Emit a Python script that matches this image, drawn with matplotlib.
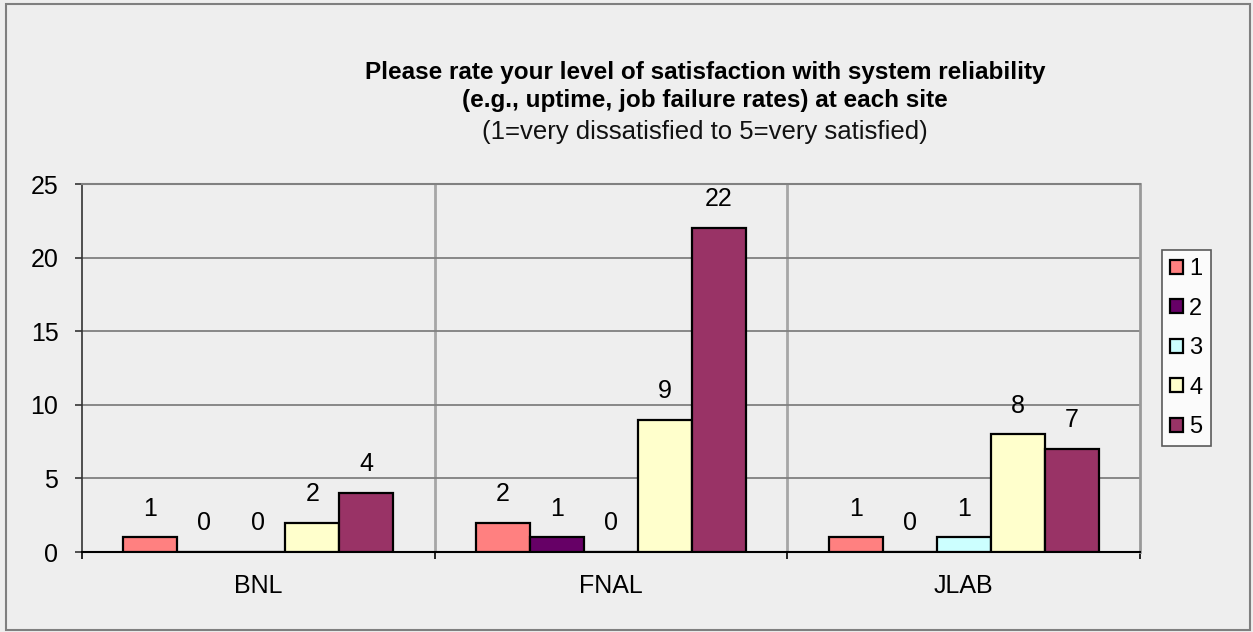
import matplotlib
matplotlib.use("Agg")
import matplotlib.pyplot as plt
from matplotlib.patches import Rectangle
import numpy as np

categories = ["BNL", "FNAL", "JLAB"]
series_names = ["1", "2", "3", "4", "5"]
values_1 = [1, 2, 1]
values_2 = [0, 1, 0]
values_3 = [0, 0, 1]
values_4 = [2, 9, 8]
values_5 = [4, 22, 7]
series_values = [values_1, values_2, values_3, values_4, values_5]
colors = ["#FF8080", "#660066", "#CCFFFF", "#FFFFCC", "#993366"]
yticks = [0, 5, 10, 15, 20, 25]

title_lines = ["Please rate your level of satisfaction with system reliability",
               "(e.g., uptime, job failure rates) at each site"]
subtitle = "(1=very dissatisfied to 5=very satisfied)"

plt.rcParams['font.family'] = ['Liberation Sans', 'DejaVu Sans']
bg = "#EEEEEE"
fig = plt.figure(figsize=(12.53, 6.32), dpi=100, facecolor=bg)

# outer frame
fig.patches.append(Rectangle((6/1253, 2/632), 1244/1253, 626/632, transform=fig.transFigure,
                             fill=False, edgecolor="#7F7F7F", linewidth=1.5))

ax = fig.add_axes([82/1253, 1-552/632, (1140-82)/1253, (552-184)/632])
ax.set_facecolor(bg)

x = np.arange(len(categories))
w = 0.153
for k, (vals, c, name) in enumerate(zip(series_values, colors, series_names)):
    pos = x + (k - 2) * w
    ax.bar(pos, vals, width=w, color=c, edgecolor="black", linewidth=1.6,
           label=name, zorder=3)
    for p, v in zip(pos, vals):
        ax.annotate(str(v), (p, v), xytext=(0, 12), textcoords="offset points",
                    ha="center", va="bottom", fontsize=18, zorder=4)

ax.set_xlim(-0.5, len(categories) - 0.5)
ax.set_ylim(0, 25)
ax.set_yticks(yticks)
ax.set_yticklabels([str(t) for t in yticks], fontsize=18)
ax.yaxis.grid(True, color="#808080", linewidth=1.3, zorder=0)
ax.tick_params(axis="y", length=5, width=1.2, color="#333333", pad=12)

# category boundaries
ax.set_xticks(x)
ax.set_xticklabels(categories, fontsize=18)
ax.tick_params(axis="x", length=0, pad=16)
for b in np.arange(0.5, len(categories) - 0.5, 1):
    ax.axvline(b, color="#A6A6A6", linewidth=2, zorder=1)
ax.set_xticks(np.arange(-0.5, len(categories), 1), minor=True)
ax.tick_params(axis="x", which="minor", length=5, width=1.2, color="black")

ax.spines["top"].set_color("#808080")
ax.spines["top"].set_linewidth(1.5)
ax.spines["right"].set_color("#999999")
ax.spines["right"].set_linewidth(2)
ax.spines["left"].set_color("#333333")
ax.spines["left"].set_linewidth(1.2)
ax.spines["bottom"].set_color("black")
ax.spines["bottom"].set_linewidth(1.5)

leg = ax.legend(loc="upper left", bbox_to_anchor=(1162/1253, 1-250/632),
                bbox_transform=fig.transFigure, frameon=True, fontsize=17,
                handlelength=0.55, handleheight=0.55, handletextpad=0.25,
                labelspacing=0.74, borderpad=0.35, fancybox=False,
                borderaxespad=0)
leg.get_frame().set_edgecolor("#333333")
leg.get_frame().set_facecolor("white")
leg.get_frame().set_linewidth(1.2)

fig.text(705/1253, 1-72/632, title_lines[0], ha="center", va="center",
         fontsize=17.5, fontweight="bold")
fig.text(705/1253, 1-101/632, title_lines[1], ha="center", va="center",
         fontsize=17.5, fontweight="bold")
fig.text(705/1253, 1-132/632, subtitle, ha="center", va="center",
         fontsize=18.5, color="#111111")

fig.savefig("out.png", dpi=100, facecolor=bg)
